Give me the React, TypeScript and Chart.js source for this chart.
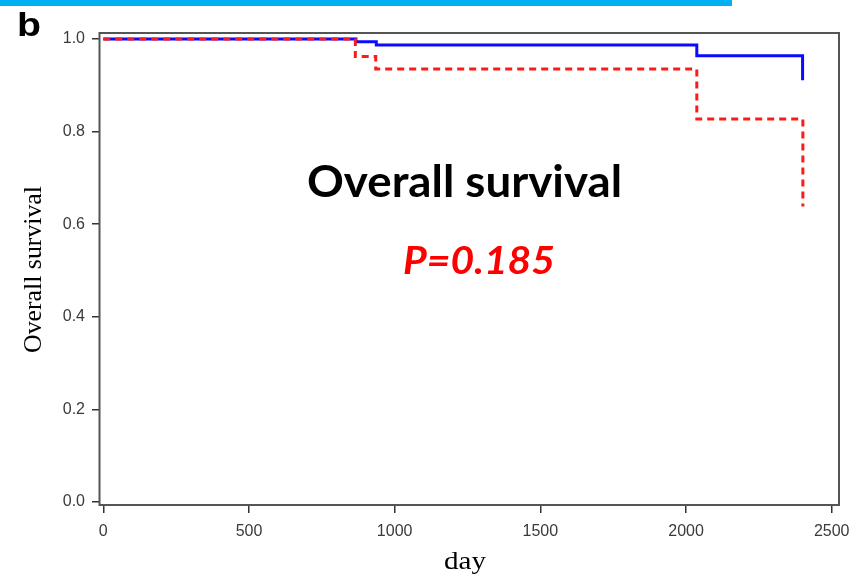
import React, { useEffect, useRef } from "react";
import { Chart, registerables } from "chart.js";

Chart.register(...registerables);

// ---- data ----
const blueDays = [0, 867, 937, 2037, 2400];
const blueSurv = [1.0, 0.994, 0.987, 0.964, 0.911];
const redDays = [0, 865, 935, 2037, 2401];
const redSurv = [1.0, 0.962, 0.935, 0.827, 0.638];
const xTickValues = [0, 500, 1000, 1500, 2000, 2500];
const yTickValues = [0, 0.2, 0.4, 0.6, 0.8, 1.0];
const panelLabel = "b";
const plotTitle = "Overall survival";
const pValueText = "P=0.185";
const xAxisTitle = "day";
const yAxisTitle = "Overall survival";

function drawFitted(
  ctx: CanvasRenderingContext2D,
  text: string,
  font: string,
  color: string,
  x: number,
  y: number,
  targetWidth: number
) {
  ctx.save();
  ctx.font = font;
  ctx.fillStyle = color;
  ctx.textAlign = "left";
  ctx.textBaseline = "alphabetic";
  const w = ctx.measureText(text).width;
  const sx = targetWidth / w;
  ctx.translate(x, y);
  ctx.scale(sx, 1);
  ctx.fillText(text, 0, 0);
  ctx.restore();
}

const decorPlugin = {
  id: "decor",
  beforeDraw(chart: any) {
    const ctx = chart.ctx as CanvasRenderingContext2D;
    ctx.save();
    ctx.fillStyle = "#ffffff";
    ctx.fillRect(0, 0, chart.width, chart.height);
    // top accent bar
    ctx.fillStyle = "#00b0f0";
    ctx.fillRect(0, 0, 732, 6);
    ctx.restore();
  },
  afterDraw(chart: any) {
    const ctx = chart.ctx as CanvasRenderingContext2D;
    const a = chart.chartArea;
    // plot frame
    ctx.save();
    ctx.strokeStyle = "#555555";
    ctx.lineWidth = 2;
    ctx.strokeRect(a.left - 0.5, a.top, a.right - a.left + 0.5, a.bottom - a.top);
    ctx.restore();

    // panel letter
    drawFitted(ctx, panelLabel, "900 34px 'Liberation Sans', Arial, sans-serif", "#000000", 17, 36, 24);
    // in-plot title and p-value
    drawFitted(ctx, plotTitle, "bold 44px Lato, 'Open Sans', sans-serif", "#000000", 307, 197, 315);
    drawFitted(ctx, pValueText, "italic bold 39px Lato, 'Open Sans', sans-serif", "#ff0000", 403, 274, 152);
    // x-axis title
    drawFitted(ctx, xAxisTitle, "26px 'Liberation Serif', 'Times New Roman', serif", "#000000", 444, 569, 42);
    // y-axis title (rotated)
    ctx.save();
    ctx.translate(41, 353);
    ctx.rotate(-Math.PI / 2);
    drawFitted(ctx, yAxisTitle, "25px 'Liberation Serif', 'Times New Roman', serif", "#000000", 0, 0, 167);
    ctx.restore();
  },
};

export default function App() {
  const canvasRef = useRef<HTMLCanvasElement | null>(null);

  useEffect(() => {
    const canvas = canvasRef.current;
    if (!canvas) return;
    const tickFont = { family: "'Liberation Sans', Arial, sans-serif", size: 16 };
    const chart = new Chart(canvas, {
      type: "line",
      data: {
        datasets: [
          {
            label: "group 2",
            data: redDays.map((d, i) => ({ x: d, y: redSurv[i] })),
            borderColor: "#ff1a1a",
            borderWidth: 3,
            borderDash: [7, 5],
            stepped: true,
            pointRadius: 0,
            fill: false,
            order: 0,
          },
          {
            label: "group 1",
            data: blueDays.map((d, i) => ({ x: d, y: blueSurv[i] })),
            borderColor: "#0a0aff",
            borderWidth: 3,
            stepped: true,
            pointRadius: 0,
            fill: false,
            order: 1,
          },
        ],
      },
      options: {
        animation: false,
        responsive: false,
        devicePixelRatio: 1,
        layout: { padding: { top: 33, right: 10, left: 0, bottom: 0 } },
        plugins: {
          legend: { display: false },
          tooltip: { enabled: false },
          title: { display: false },
        },
        scales: {
          x: {
            type: "linear",
            min: -11.3,
            max: 2525,
            afterFit: (s: any) => {
              s.height = 71;
              s.paddingLeft = 0;
              s.paddingRight = 0;
            },
            afterBuildTicks: (s: any) => {
              s.ticks = xTickValues.map((v) => ({ value: v }));
            },
            border: { display: false },
            grid: {
              drawOnChartArea: false,
              drawTicks: true,
              tickLength: 8,
              tickColor: "#333333",
              lineWidth: 1.5,
            },
            ticks: {
              color: "#3a3a3a",
              font: tickFont,
              padding: 9,
              maxRotation: 0,
              autoSkip: false,
              callback: (v: any) => String(v),
            },
          },
          y: {
            type: "linear",
            min: -0.00648,
            max: 1.01296,
            afterFit: (s: any) => {
              s.width = 100;
              s.paddingTop = 0;
              s.paddingBottom = 0;
            },
            afterBuildTicks: (s: any) => {
              s.ticks = yTickValues.map((v) => ({ value: v }));
            },
            border: { display: false },
            grid: {
              drawOnChartArea: false,
              drawTicks: true,
              tickLength: 8,
              tickColor: "#333333",
              lineWidth: 1.5,
            },
            ticks: {
              color: "#3a3a3a",
              font: tickFont,
              padding: 7,
              autoSkip: false,
              callback: (v: any) => Number(v).toFixed(1),
            },
          },
        },
      },
      plugins: [decorPlugin],
    });
    return () => chart.destroy();
  }, []);

  return (
    <div style={{ position: "absolute", left: 0, top: 0, width: 849, height: 576, background: "#fff" }}>
      <canvas ref={canvasRef} width={849} height={576} style={{ display: "block", width: 849, height: 576 }} />
    </div>
  );
}
